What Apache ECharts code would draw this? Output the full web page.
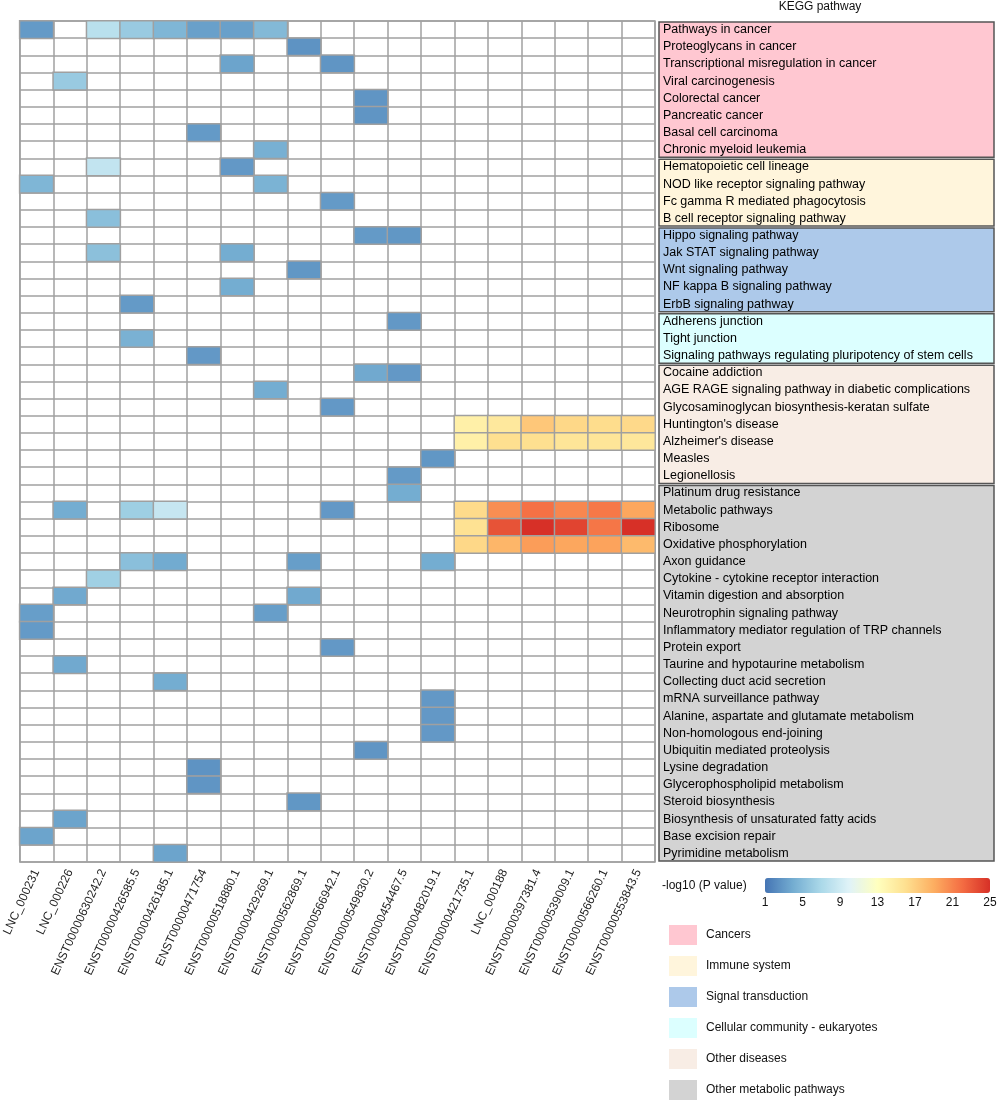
<!DOCTYPE html>
<html>
<head>
<meta charset="utf-8">
<script src="https://cdn.jsdelivr.net/npm/echarts@6/dist/echarts.min.js"></script>
<style>
html,body{margin:0;padding:0;background:#fff;}
#chart{width:1000px;height:1104px;}
</style>
</head>
<body>
<div id="chart"></div>
<script>
const columns = ['LNC_000231','LNC_000226','ENST00000630242.2','ENST00000426585.5','ENST00000426185.1','ENST00000471754','ENST00000518880.1','ENST00000429269.1','ENST00000562869.1','ENST00000566942.1','ENST00000549830.2','ENST00000454467.5','ENST00000482019.1','ENST00000421735.1','LNC_000188','ENST00000397381.4','ENST00000539009.1','ENST00000566260.1','ENST00000553843.5'];

const pathways = ['Pathways in cancer','Proteoglycans in cancer','Transcriptional misregulation in cancer','Viral carcinogenesis','Colorectal cancer','Pancreatic cancer','Basal cell carcinoma','Chronic myeloid leukemia',
'Hematopoietic cell lineage','NOD like receptor signaling pathway','Fc gamma R mediated phagocytosis','B cell receptor signaling pathway',
'Hippo signaling pathway','Jak STAT signaling pathway','Wnt signaling pathway','NF kappa B signaling pathway','ErbB signaling pathway',
'Adherens junction','Tight junction','Signaling pathways regulating pluripotency of stem cells',
'Cocaine addiction','AGE RAGE signaling pathway in diabetic complications','Glycosaminoglycan biosynthesis-keratan sulfate',"Huntington's disease","Alzheimer's disease",'Measles','Legionellosis',
'Platinum drug resistance','Metabolic pathways','Ribosome','Oxidative phosphorylation','Axon guidance','Cytokine - cytokine receptor interaction','Vitamin digestion and absorption','Neurotrophin signaling pathway','Inflammatory mediator regulation of TRP channels','Protein export','Taurine and hypotaurine metabolism','Collecting duct acid secretion','mRNA surveillance pathway','Alanine, aspartate and glutamate metabolism','Non-homologous end-joining','Ubiquitin mediated proteolysis','Lysine degradation','Glycerophospholipid metabolism','Steroid biosynthesis','Biosynthesis of unsaturated fatty acids','Base excision repair','Pyrimidine metabolism'];

const groupNames = ['Cancers','Immune system','Signal transduction','Cellular community - eukaryotes','Other diseases','Other metabolic pathways'];
const groupColors = ['#ffc7d1','#fff5dc','#adc9ea','#dcffff','#f8ede5','#d3d3d3'];
const groupFirstRow = [0, 8, 12, 17, 20, 27];
const groupLastRow = [7, 11, 16, 19, 26, 48];

const colorbarTicks = [1, 5, 9, 13, 17, 21, 25];

// [column index, pathway index, -log10(P)]
const cells = [
 [0,0,3.0],[2,0,7.8],[3,0,6.0],[4,0,4.6],[5,0,3.3],[6,0,3.3],[7,0,4.8],
 [8,1,2.6],
 [6,2,3.5],[9,2,2.7],
 [1,3,6.0],
 [10,4,2.7],[10,5,2.7],
 [5,6,3.0],
 [7,7,4.2],
 [2,8,8.3],[6,8,2.9],
 [0,9,4.6],[7,9,4.4],
 [9,10,3.0],
 [2,11,5.2],
 [10,12,3.0],[11,12,2.8],
 [2,13,5.3],[6,13,4.0],
 [8,14,2.8],
 [6,15,4.0],
 [3,16,3.0],
 [11,17,2.9],
 [3,18,4.3],
 [5,19,2.9],
 [10,20,3.8],[11,20,2.9],
 [7,21,4.0],
 [9,22,2.9],
 [13,23,14.5],[14,23,15.2],[15,23,17.5],[16,23,16.5],[17,23,16.2],[18,23,16.4],
 [13,24,14.5],[14,24,16.0],[15,24,16.0],[16,24,15.5],[17,24,15.5],[18,24,15.3],
 [12,25,2.8],
 [11,26,3.0],
 [11,27,4.0],
 [1,28,4.0],[3,28,6.3],[4,28,8.5],[9,28,2.9],[13,28,16.3],[14,28,20.5],[15,28,21.8],[16,28,20.8],[17,28,21.5],[18,28,19.3],
 [13,29,15.8],[14,29,23.3],[15,29,25.0],[16,29,24.0],[17,29,21.6],[18,29,25.0],
 [13,30,16.5],[14,30,18.5],[15,30,19.8],[16,30,19.3],[17,30,19.5],[18,30,18.3],
 [3,31,5.2],[4,31,3.9],[8,31,3.2],[12,31,4.0],
 [2,32,6.4],
 [1,33,3.8],[8,33,3.8],
 [0,34,3.2],[7,34,3.2],
 [0,35,3.0],
 [9,36,2.9],
 [1,37,3.8],
 [4,38,4.0],
 [12,39,2.9],[12,40,2.9],[12,41,2.9],
 [10,42,2.7],
 [5,43,2.6],[5,44,2.7],
 [8,45,2.8],
 [1,46,3.5],
 [0,47,3.5],
 [4,48,3.5]
];

const FONT = 'Arial, "Liberation Sans", sans-serif';
const chart = echarts.init(document.getElementById('chart'), null, {renderer:'canvas'});

const gridTop = 21, gridH = 841;

function groupSeries(i){
  return {
    type:'custom', name: groupNames[i], xAxisIndex:1, yAxisIndex:1, z:1,
    itemStyle:{color: groupColors[i]},
    encode:{x:0, y:1},
    data:[[0, groupFirstRow[i], groupLastRow[i]]],
    renderItem: function(params, api){
      const cs = params.coordSys;
      const a = api.coord([0, api.value(1)])[1];
      const b = api.coord([0, api.value(2)])[1];
      const h = api.size([0, 1])[1];
      const top = Math.min(a,b) - h/2 + 1;
      const bot = Math.max(a,b) + h/2 - 1;
      return {type:'rect', shape:{x: cs.x, y: top, width: cs.width, height: bot-top},
        style:{fill: groupColors[i], stroke:'#555', lineWidth:1.5}};
    }
  };
}

const option = {
  backgroundColor:'#fff',
  animation:false,
  textStyle:{fontFamily: FONT},
  title:[
    {text:'KEGG pathway', left:820, top:1, textAlign:'center', padding:0,
     textStyle:{fontSize:12, fontWeight:'normal', color:'#111', fontFamily:FONT}},
    {text:'-log10 (P value)', left:662, top:880, padding:0,
     textStyle:{fontSize:12, fontWeight:'normal', color:'#111', fontFamily:FONT}}
  ],
  legend:{
    data: groupNames, orient:'vertical', left:669, top:925, padding:0,
    itemWidth:28, itemHeight:20, itemGap:11, icon:'rect',
    selectedMode:false,
    textStyle:{fontSize:12, color:'#111', fontFamily:FONT, padding:[0,0,0,4]}
  },
  grid:[
    {left:19, top:gridTop, width:636, height:gridH, show:true, borderColor:'#a0a0a0', borderWidth:1.5, backgroundColor:'#fff'},
    {left:659, top:gridTop, width:335, height:gridH},
    {left:765, top:893, width:225, height:1}
  ],
  xAxis:[
    {type:'category', data:columns, gridIndex:0, position:'bottom',
     axisLine:{show:false}, axisTick:{show:false},
     splitLine:{show:true, interval:0, lineStyle:{color:'#a0a0a0', width:1.5}},
     axisLabel:{interval:0, rotate:65, margin:8, fontSize:12, color:'#222', fontFamily:FONT}},
    {type:'value', gridIndex:1, min:0, max:1, show:false},
    {type:'value', gridIndex:2, min:colorbarTicks[0], max:colorbarTicks[colorbarTicks.length-1], interval:colorbarTicks[1]-colorbarTicks[0],
     axisLine:{show:false}, axisTick:{show:false}, splitLine:{show:false},
     axisLabel:{margin:3, fontSize:12, color:'#111', fontFamily:FONT}}
  ],
  yAxis:[
    {type:'category', data:pathways, gridIndex:0, inverse:true,
     axisLine:{show:false}, axisTick:{show:false}, axisLabel:{show:false},
     splitLine:{show:true, interval:0, lineStyle:{color:'#a0a0a0', width:1.5}}},
    {type:'category', data:pathways, gridIndex:1, inverse:true, z:10,
     axisLine:{show:false}, axisTick:{show:false}, splitLine:{show:false},
     axisLabel:{inside:true, interval:0, margin:4, fontSize:12.5, color:'#000', fontFamily:FONT}},
    {type:'value', gridIndex:2, show:false, min:0, max:1}
  ],
  visualMap:{
    type:'continuous', seriesIndex:0, min:1, max:25, calculable:false, realtime:false,
    orient:'horizontal', left:760, top:873, itemWidth:15, itemHeight:225, padding:5,
    text:null, hoverLink:false,
    inRange:{color:['#4575b4','#74add1','#abd9e9','#e0f3f8','#ffffbf','#fee090','#fdae61','#f46d43','#d73027']}
  },
  series:[
    {type:'heatmap', xAxisIndex:0, yAxisIndex:0, data:cells, z:3,
     itemStyle:{borderColor:'#a0a0a0', borderWidth:1.5},
     emphasis:{disabled:true}}
  ].concat(groupNames.map((g,i)=>groupSeries(i)))
};
chart.setOption(option);
</script>
</body>
</html>
